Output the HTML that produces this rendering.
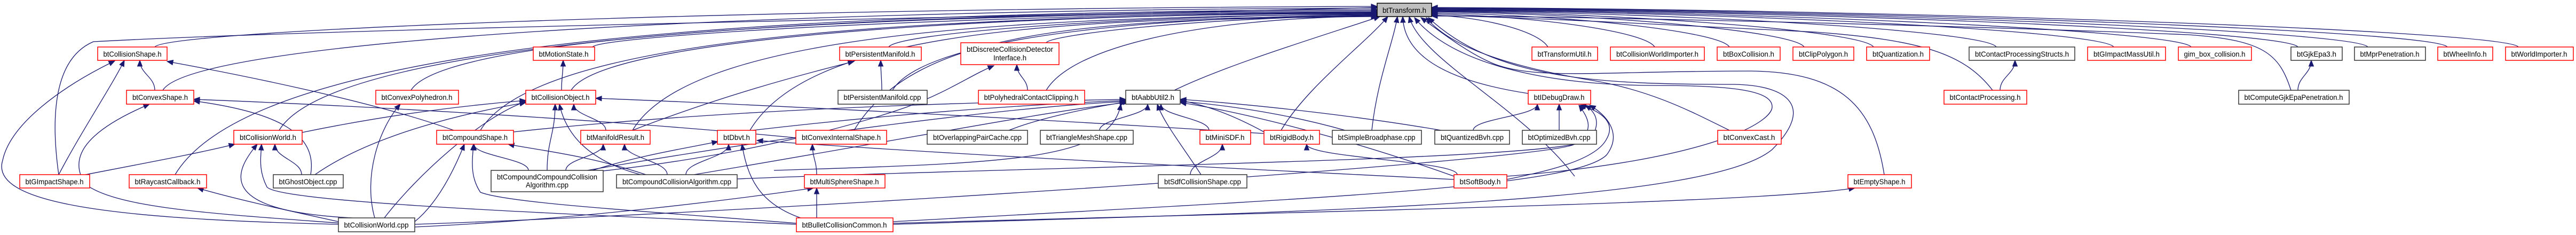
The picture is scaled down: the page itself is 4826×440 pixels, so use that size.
<!DOCTYPE html>
<html><head><meta charset="utf-8">
<style>
html,body{margin:0;padding:0;background:#fff;}
svg{display:block;}
text{font-family:"Liberation Sans",sans-serif;font-size:14px;fill:#000;}
</style></head>
<body>
<svg id="g" xmlns="http://www.w3.org/2000/svg" width="4826" height="440" viewBox="0 0 4826 440">
<g id="edges" fill="none" stroke="#191970" stroke-width="1.3"></g>
<g id="arrows" fill="#191970" stroke="#191970" stroke-width="1"></g>
<g id="nodes" stroke-width="1.5">
<!-- row 0 -->
<rect x="2580" y="6" width="102" height="25" fill="#bfbfbf" stroke="#000"/><text x="2631" y="24" text-anchor="middle" textLength="82" lengthAdjust="spacingAndGlyphs">btTransform.h</text>
<!-- row 1 -->
<rect x="183" y="88" width="130" height="25" fill="#fff" stroke="#f00"/><text x="248" y="106" text-anchor="middle" textLength="109" lengthAdjust="spacingAndGlyphs">btCollisionShape.h</text>
<rect x="999" y="88" width="115" height="25" fill="#fff" stroke="#f00"/><text x="1056" y="106" text-anchor="middle" textLength="93" lengthAdjust="spacingAndGlyphs">btMotionState.h</text>
<rect x="1573" y="88" width="153" height="25" fill="#fff" stroke="#f00"/><text x="1649" y="106" text-anchor="middle" textLength="131" lengthAdjust="spacingAndGlyphs">btPersistentManifold.h</text>
<rect x="1800" y="80" width="184" height="41" fill="#fff" stroke="#f00"/><text x="1892" y="97" text-anchor="middle" textLength="162" lengthAdjust="spacingAndGlyphs">btDiscreteCollisionDetector</text><text x="1892" y="113" text-anchor="middle" textLength="62" lengthAdjust="spacingAndGlyphs">Interface.h</text>
<rect x="2870" y="88" width="123" height="25" fill="#fff" stroke="#f00"/><text x="2931" y="106" text-anchor="middle" textLength="101" lengthAdjust="spacingAndGlyphs">btTransformUtil.h</text>
<rect x="3017" y="88" width="176" height="25" fill="#fff" stroke="#f00"/><text x="3105" y="106" text-anchor="middle" textLength="154" lengthAdjust="spacingAndGlyphs">btCollisionWorldImporter.h</text>
<rect x="3217" y="88" width="118" height="25" fill="#fff" stroke="#f00"/><text x="3276" y="106" text-anchor="middle" textLength="96" lengthAdjust="spacingAndGlyphs">btBoxCollision.h</text>
<rect x="3359" y="88" width="114" height="25" fill="#fff" stroke="#f00"/><text x="3416" y="106" text-anchor="middle" textLength="92" lengthAdjust="spacingAndGlyphs">btClipPolygon.h</text>
<rect x="3497" y="88" width="118" height="25" fill="#fff" stroke="#f00"/><text x="3556" y="106" text-anchor="middle" textLength="96" lengthAdjust="spacingAndGlyphs">btQuantization.h</text>
<rect x="3689" y="88" width="198" height="25" fill="#fff" stroke="#333"/><text x="3788" y="106" text-anchor="middle" textLength="176" lengthAdjust="spacingAndGlyphs">btContactProcessingStructs.h</text>
<rect x="3911" y="88" width="146" height="25" fill="#fff" stroke="#f00"/><text x="3984" y="106" text-anchor="middle" textLength="124" lengthAdjust="spacingAndGlyphs">btGImpactMassUtil.h</text>
<rect x="4081" y="88" width="137" height="25" fill="#fff" stroke="#f00"/><text x="4149" y="106" text-anchor="middle" textLength="115" lengthAdjust="spacingAndGlyphs">gim_box_collision.h</text>
<rect x="4292" y="88" width="96" height="25" fill="#fff" stroke="#333"/><text x="4340" y="106" text-anchor="middle" textLength="74" lengthAdjust="spacingAndGlyphs">btGjkEpa3.h</text>
<rect x="4411" y="88" width="133" height="25" fill="#fff" stroke="#333"/><text x="4477" y="106" text-anchor="middle" textLength="111" lengthAdjust="spacingAndGlyphs">btMprPenetration.h</text>
<rect x="4567" y="88" width="103" height="25" fill="#fff" stroke="#f00"/><text x="4618" y="106" text-anchor="middle" textLength="81" lengthAdjust="spacingAndGlyphs">btWheelInfo.h</text>
<rect x="4694" y="88" width="127" height="25" fill="#fff" stroke="#f00"/><text x="4757" y="106" text-anchor="middle" textLength="105" lengthAdjust="spacingAndGlyphs">btWorldImporter.h</text>
<!-- row 2 -->
<rect x="237" y="169" width="126" height="26" fill="#fff" stroke="#f00"/><text x="300" y="187" text-anchor="middle" textLength="104" lengthAdjust="spacingAndGlyphs">btConvexShape.h</text>
<rect x="704" y="169" width="155" height="26" fill="#fff" stroke="#f00"/><text x="781" y="187" text-anchor="middle" textLength="133" lengthAdjust="spacingAndGlyphs">btConvexPolyhedron.h</text>
<rect x="985" y="169" width="131" height="26" fill="#fff" stroke="#f00"/><text x="1050" y="187" text-anchor="middle" textLength="109" lengthAdjust="spacingAndGlyphs">btCollisionObject.h</text>
<rect x="1570" y="169" width="167" height="26" fill="#fff" stroke="#333"/><text x="1653" y="187" text-anchor="middle" textLength="145" lengthAdjust="spacingAndGlyphs">btPersistentManifold.cpp</text>
<rect x="1833" y="169" width="199" height="26" fill="#fff" stroke="#f00"/><text x="1932" y="187" text-anchor="middle" textLength="177" lengthAdjust="spacingAndGlyphs">btPolyhedralContactClipping.h</text>
<rect x="2109" y="169" width="102" height="26" fill="#fff" stroke="#333"/><text x="2160" y="187" text-anchor="middle" textLength="80" lengthAdjust="spacingAndGlyphs">btAabbUtil2.h</text>
<rect x="2863" y="169" width="117" height="26" fill="#fff" stroke="#f00"/><text x="2921" y="187" text-anchor="middle" textLength="95" lengthAdjust="spacingAndGlyphs">btIDebugDraw.h</text>
<rect x="3642" y="169" width="155" height="26" fill="#fff" stroke="#f00"/><text x="3719" y="187" text-anchor="middle" textLength="133" lengthAdjust="spacingAndGlyphs">btContactProcessing.h</text>
<rect x="4194" y="169" width="207" height="26" fill="#fff" stroke="#333"/><text x="4297" y="187" text-anchor="middle" textLength="185" lengthAdjust="spacingAndGlyphs">btComputeGjkEpaPenetration.h</text>
<!-- row 3 -->
<rect x="438" y="244" width="128" height="26" fill="#fff" stroke="#f00"/><text x="502" y="262" text-anchor="middle" textLength="106" lengthAdjust="spacingAndGlyphs">btCollisionWorld.h</text>
<rect x="818" y="244" width="144" height="26" fill="#fff" stroke="#f00"/><text x="890" y="262" text-anchor="middle" textLength="122" lengthAdjust="spacingAndGlyphs">btCompoundShape.h</text>
<rect x="1088" y="244" width="130" height="26" fill="#fff" stroke="#f00"/><text x="1153" y="262" text-anchor="middle" textLength="108" lengthAdjust="spacingAndGlyphs">btManifoldResult.h</text>
<rect x="1344" y="244" width="72" height="26" fill="#fff" stroke="#f00"/><text x="1380" y="262" text-anchor="middle" textLength="50" lengthAdjust="spacingAndGlyphs">btDbvt.h</text>
<rect x="1491" y="244" width="170" height="26" fill="#fff" stroke="#f00"/><text x="1576" y="262" text-anchor="middle" textLength="148" lengthAdjust="spacingAndGlyphs">btConvexInternalShape.h</text>
<rect x="1737" y="244" width="188" height="26" fill="#fff" stroke="#333"/><text x="1831" y="262" text-anchor="middle" textLength="166" lengthAdjust="spacingAndGlyphs">btOverlappingPairCache.cpp</text>
<rect x="1949" y="244" width="174" height="26" fill="#fff" stroke="#333"/><text x="2036" y="262" text-anchor="middle" textLength="152" lengthAdjust="spacingAndGlyphs">btTriangleMeshShape.cpp</text>
<rect x="2248" y="244" width="95" height="26" fill="#fff" stroke="#f00"/><text x="2295" y="262" text-anchor="middle" textLength="73" lengthAdjust="spacingAndGlyphs">btMiniSDF.h</text>
<rect x="2368" y="244" width="104" height="26" fill="#fff" stroke="#f00"/><text x="2420" y="262" text-anchor="middle" textLength="82" lengthAdjust="spacingAndGlyphs">btRigidBody.h</text>
<rect x="2496" y="244" width="167" height="26" fill="#fff" stroke="#333"/><text x="2579" y="262" text-anchor="middle" textLength="145" lengthAdjust="spacingAndGlyphs">btSimpleBroadphase.cpp</text>
<rect x="2688" y="244" width="140" height="26" fill="#fff" stroke="#333"/><text x="2758" y="262" text-anchor="middle" textLength="118" lengthAdjust="spacingAndGlyphs">btQuantizedBvh.cpp</text>
<rect x="2852" y="244" width="139" height="26" fill="#fff" stroke="#333"/><text x="2921" y="262" text-anchor="middle" textLength="117" lengthAdjust="spacingAndGlyphs">btOptimizedBvh.cpp</text>
<rect x="3218" y="244" width="119" height="26" fill="#fff" stroke="#f00"/><text x="3277" y="262" text-anchor="middle" textLength="97" lengthAdjust="spacingAndGlyphs">btConvexCast.h</text>
<!-- row 4 -->
<rect x="37" y="327" width="131" height="25" fill="#fff" stroke="#f00"/><text x="102" y="345" text-anchor="middle" textLength="109" lengthAdjust="spacingAndGlyphs">btGImpactShape.h</text>
<rect x="242" y="327" width="145" height="25" fill="#fff" stroke="#f00"/><text x="314" y="345" text-anchor="middle" textLength="123" lengthAdjust="spacingAndGlyphs">btRaycastCallback.h</text>
<rect x="512" y="327" width="131" height="25" fill="#fff" stroke="#333"/><text x="577" y="345" text-anchor="middle" textLength="109" lengthAdjust="spacingAndGlyphs">btGhostObject.cpp</text>
<rect x="920" y="319" width="210" height="40" fill="#fff" stroke="#333"/><text x="1025" y="336" text-anchor="middle" textLength="188" lengthAdjust="spacingAndGlyphs">btCompoundCompoundCollision</text><text x="1025" y="351" text-anchor="middle" textLength="80" lengthAdjust="spacingAndGlyphs">Algorithm.cpp</text>
<rect x="1155" y="327" width="226" height="25" fill="#fff" stroke="#333"/><text x="1268" y="345" text-anchor="middle" textLength="204" lengthAdjust="spacingAndGlyphs">btCompoundCollisionAlgorithm.cpp</text>
<rect x="1507" y="327" width="151" height="25" fill="#fff" stroke="#f00"/><text x="1582" y="345" text-anchor="middle" textLength="129" lengthAdjust="spacingAndGlyphs">btMultiSphereShape.h</text>
<rect x="2170" y="327" width="166" height="25" fill="#fff" stroke="#333"/><text x="2253" y="345" text-anchor="middle" textLength="144" lengthAdjust="spacingAndGlyphs">btSdfCollisionShape.cpp</text>
<rect x="2724" y="327" width="99" height="25" fill="#fff" stroke="#f00"/><text x="2773" y="345" text-anchor="middle" textLength="77" lengthAdjust="spacingAndGlyphs">btSoftBody.h</text>
<rect x="3462" y="327" width="119" height="25" fill="#fff" stroke="#f00"/><text x="3521" y="345" text-anchor="middle" textLength="97" lengthAdjust="spacingAndGlyphs">btEmptyShape.h</text>
<!-- row 5 -->
<rect x="634" y="408" width="143" height="26" fill="#fff" stroke="#333"/><text x="705" y="426" text-anchor="middle" textLength="121" lengthAdjust="spacingAndGlyphs">btCollisionWorld.cpp</text>
<rect x="1492" y="408" width="181" height="26" fill="#fff" stroke="#f00"/><text x="1582" y="426" text-anchor="middle" textLength="159" lengthAdjust="spacingAndGlyphs">btBulletCollisionCommon.h</text>
</g>
</svg>
<script>
(function(){
var NS="http://www.w3.org/2000/svg";
var eg=document.getElementById("edges"),ag=document.getElementById("arrows");
function arrow(ax,ay,tx,ty){
 var dx=tx-ax,dy=ty-ay,l=Math.sqrt(dx*dx+dy*dy)||1;dx/=l;dy/=l;
 var bx=tx-dx*11,by=ty-dy*11,px=-dy*4.5,py=dx*4.5;
 var p=document.createElementNS(NS,"polygon");
 p.setAttribute("points",tx+","+ty+" "+(bx+px)+","+(by+py)+" "+(bx-px)+","+(by-py));
 ag.appendChild(p);
}
function path(d){var p=document.createElementNS(NS,"path");p.setAttribute("d",d);eg.appendChild(p);}
// generic cubic: source -> target, arrow at target
function E(sx,sy,tx,ty,c1x,c1y,c2x,c2y){
 if(c1x===undefined){var k=(sy-ty)*0.45;c1x=sx;c1y=sy-k;c2x=tx;c2y=ty+k;}
 path("M"+sx+","+sy+" C"+c1x+","+c1y+" "+c2x+","+c2y+" "+tx+","+ty);
 arrow(c2x,c2y,tx,ty);
}
function P(d,ax,ay,tx,ty){path(d);arrow(ax,ay,tx,ty);}
// left edges into btTransform
function L(sx,sy,ty,k){k=k||40;E(sx,sy,2580,ty,sx+k*0.6,sy-k,sx+(2580-sx)*0.45,ty+4);}
function R(sx,sy,ty,k){k=k||40;E(sx,sy,2682,ty,sx-k*0.6,sy-k,2682+(sx-2682)*0.45,ty+4);}
L(290,88,12,30);
P("M110,327 C95,220 100,110 175,78 C700,50 2000,30 2580,14",2000,30,2580,14);
L(305,169,15,90);
L(328,327,18,240);
L(523,244,20,160);
L(770,169,22,100);
L(1110,88,23,20);
L(1070,169,24,90);
L(900,244,25,170);
L(1185,244,27,170);
L(1665,88,26,25);
L(1672,169,28,90);
L(1960,80,29,15);
L(1960,169,30,80);
L(1405,244,30,180);
L(1600,244,31,190);
E(2200,169,2585,31,2300,120,2500,60);
E(2400,244,2600,31,2450,160,2560,80);
E(2570,244,2618,31,2580,150,2610,80);
E(2863,175,2628,31,2700,150,2630,100);
E(2950,330,2640,31,2850,200,2660,110);
R(2900,88,28,30);
R(3100,88,26,30);
R(3240,88,24,30);
R(3380,88,22,30);
R(3510,88,21,30);
R(3740,88,20,30);
R(3960,88,19,30);
R(4105,88,18,30);
R(4305,88,17,30);
R(4436,88,16,30);
R(4585,88,15,30);
R(4718,88,14,30);
P("M3733,169 C3680,100 3600,75 3400,60 C3100,45 2800,30 2682,29",2800,30,2682,29);
P("M4292,169 C4270,100 4240,75 4100,65 C3600,45 2900,30 2682,30",2900,30,2682,30);
P("M3240,244 C3180,215 3100,170 2980,150 C2800,120 2710,80 2672,33",2710,80,2672,33);
P("M3530,327 C3510,200 3450,135 3280,133 C3000,133 2880,150 2800,120 C2750,100 2700,60 2662,33",2700,60,2662,33);
P("M2823,330 C3200,300 3320,230 3320,200 C3320,170 3250,160 3100,160 C2900,160 2720,120 2650,33",2720,120,2650,33);
P("M1673,420 C2500,395 3200,380 3320,280 C3400,200 3350,160 3250,158 C3000,158 2800,150 2676,33",2800,150,2676,33);
// internal edges
E(290,169,262,113);
E(110,327,233,113,150,250,210,160);
P("M634,420 C200,410 -20,380 5,300 C20,230 120,160 215,114",120,160,215,114);
E(850,244,313,115,700,190,450,140);
E(160,327,440,270,300,300,380,285);
E(565,327,515,270);
P("M660,408 C400,395 440,320 482,270",440,320,482,270);
P("M1492,420 C900,395 520,375 500,350 C485,320 488,300 490,270",488,300,490,270);
E(634,415,370,352,520,390,430,370);
P("M640,418 C400,400 220,390 160,345 C130,300 150,250 280,195",150,250,280,195);
E(582,327,363,189,595,250,520,210);
E(1491,258,363,186,1100,220,600,195);
E(702,408,750,195,680,330,710,240);
E(720,408,985,190,780,330,900,220);
E(566,248,985,188,750,210,900,195);
E(590,327,985,192,700,250,880,210);
E(2368,250,1116,184,1900,220,1400,195);
E(1052,169,1055,113);
E(1025,319,1040,195);
E(1200,327,1048,195,1100,300,1060,250);
E(1135,244,1075,195);
E(990,319,888,270);
E(1210,327,952,270,1100,290,1000,280);
E(777,415,870,270,820,380,850,320);
P("M1492,418 C1200,395 950,380 900,360 C880,330 885,300 887,270",885,300,887,270);
E(1060,319,1130,270);
E(1250,327,1170,270);
E(1110,319,1345,265,1200,290,1300,275);
E(1285,327,1365,270);
P("M1500,408 C1420,380 1400,330 1390,270",1400,330,1390,270);
P("M2724,336 C2200,310 1800,290 1418,263",1800,290,1418,263);
E(1530,327,1522,270);
E(1530,408,1530,352);
E(777,425,1524,352,1100,410,1400,370);
E(1652,169,1650,113);
E(1185,244,1600,115,1350,180,1500,140);
E(1925,169,1905,121);
P("M1130,320 C1400,290 1600,235 1700,200 C1780,170 1820,140 1862,123",1820,140,1862,123);
E(1890,244,2115,190,1950,220,2050,200);
E(2060,244,2150,195);
E(2265,244,2175,195);
E(2250,327,2168,195,2220,280,2180,230);
E(1100,319,2109,190,1500,250,1900,200);
E(1300,327,2109,192,1700,260,1950,210);
E(1410,244,2109,188,1700,210,1950,195);
E(962,247,2109,186,1400,200,1900,190);
P("M1450,319 C1900,305 2080,300 2100,195",2080,300,2100,195);
E(2368,247,2211,188,2300,210,2250,195);
E(2724,330,2211,192,2500,250,2300,205);
E(2520,244,2211,190,2400,210,2280,195);
E(2700,244,2211,186,2500,210,2300,192);
E(2230,327,2290,270);
E(2730,327,2448,270);
E(2760,244,2880,195);
E(2921,244,2921,195);
P("M2823,336 C2900,320 2990,300 3010,260 C3030,225 2990,205 2960,197",2990,205,2960,197);
P("M777,420 C1500,395 2900,300 2950,270 C2990,245 2975,220 2958,197",2975,220,2958,197);
P("M1673,415 C2500,370 2950,350 3010,290 C3040,250 3010,215 2978,197",3010,215,2978,197);
P("M1381,335 C2000,310 2950,300 2980,260 C3000,230 2990,210 2970,197",2990,210,2970,197);
E(3747,169,3775,113);
E(4305,169,4330,113);
E(1673,418,3475,352,2500,395,3300,380);
})();
</script>
</body></html>
